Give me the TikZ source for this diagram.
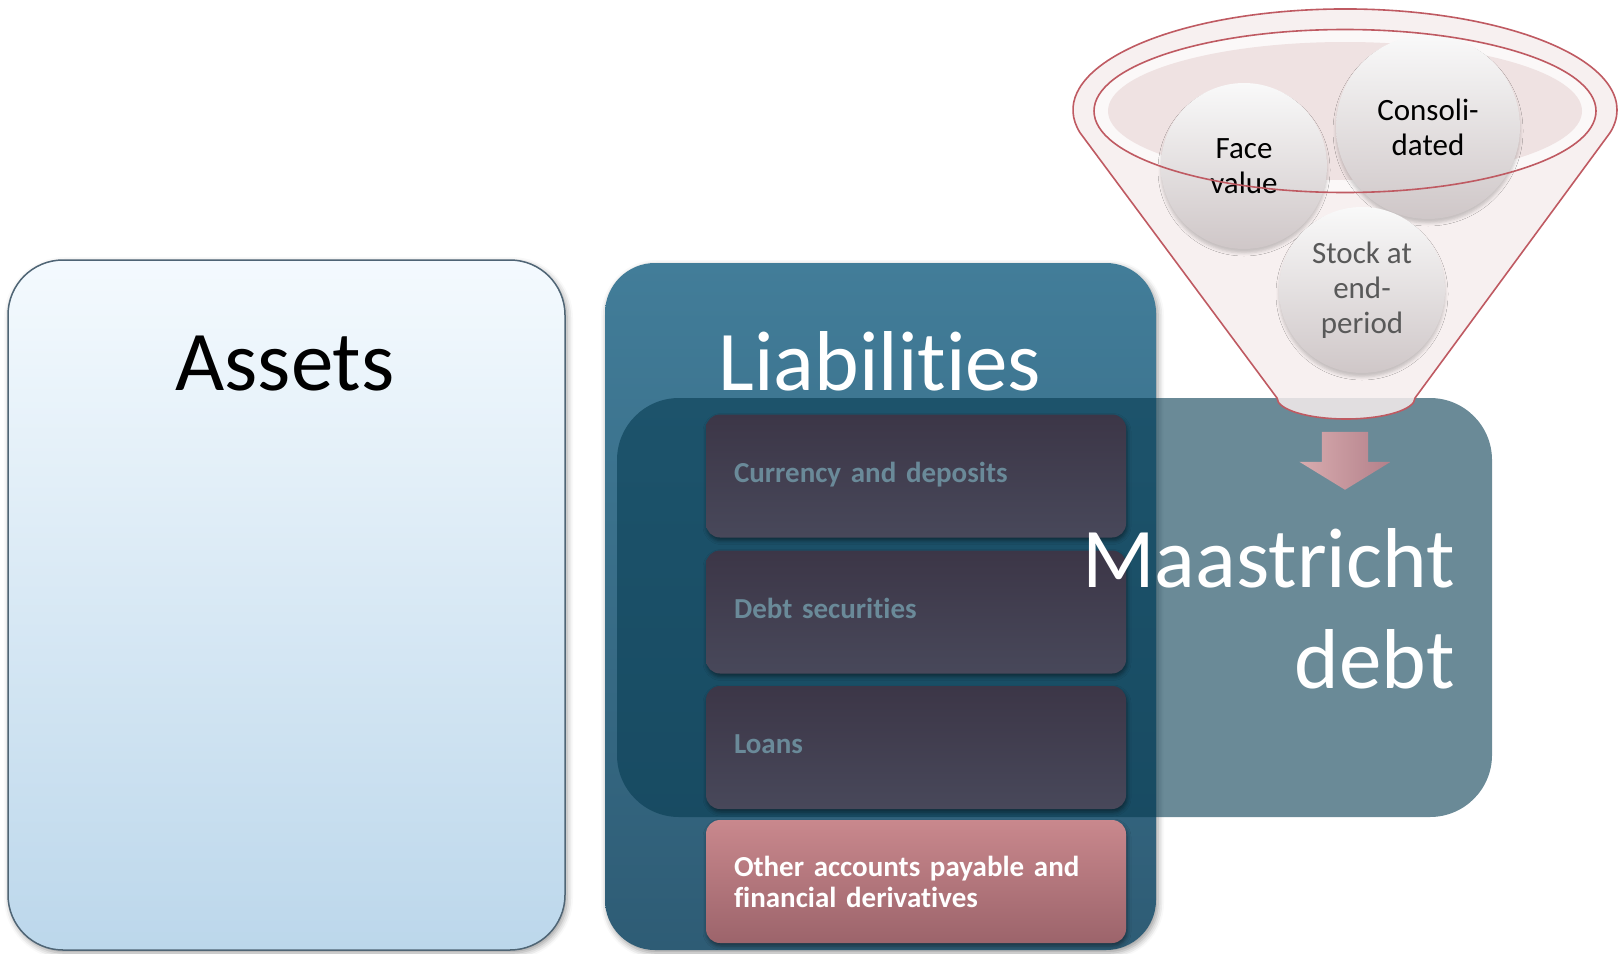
\documentclass[tikz,border=0pt]{standalone}
\usepackage{fontspec}
\setmainfont{Carlito}[Ligatures=NoCommon]
\usetikzlibrary{positioning, shapes.arrows, shadows.blur}

\definecolor{assetTop}{HTML}{F4FAFE}
\definecolor{assetBot}{HTML}{BCD7EB}
\definecolor{assetLine}{HTML}{4F6575}
\definecolor{liabTop}{HTML}{427D99}
\definecolor{liabBot}{HTML}{2E5C75}
\definecolor{maasFill}{HTML}{073C52}
\definecolor{itemTop}{HTML}{3C3647}
\definecolor{itemBot}{HTML}{48485A}
\definecolor{itemText}{HTML}{6A8A99}
\definecolor{othTop}{HTML}{C9888D}
\definecolor{othBot}{HTML}{9C646B}
\definecolor{funnelLine}{HTML}{BF5A62}
\definecolor{funnelFill}{HTML}{F6EDED}
\definecolor{funnelGap}{HTML}{FBF8F8}
\definecolor{funnelIn}{HTML}{EFE2E2}
\definecolor{ballTop}{HTML}{F9F9F9}
\definecolor{ballBot}{HTML}{CFC7C8}
\definecolor{arrowTop}{HTML}{D8ACAF}
\definecolor{arrowBot}{HTML}{B3808A}
\definecolor{stockText}{HTML}{595959}

\begin{document}
\begin{tikzpicture}[x=1pt, y=-1pt,
    bigbox/.style={inner sep=0pt, blur shadow={shadow xshift=2pt, shadow yshift=-3pt, shadow blur radius=6pt, shadow opacity=40}},
    item/.style={rounded corners=14pt, minimum width=420pt, minimum height=123pt, inner xsep=28pt, text width=364pt, align=left,
        font=\fontsize{29}{31}\selectfont\bfseries, execute at begin node=\strut,
        blur shadow={shadow xshift=1pt, shadow yshift=-3pt, shadow blur radius=4pt, shadow opacity=45}},
    bigtext/.style={font=\fontsize{85}{100}\selectfont},
    ball/.style={circle, inner sep=0pt, top color=ballTop, bottom color=ballBot, align=center,
        font=\fontsize{31}{35}\selectfont, blur shadow={shadow xshift=0pt, shadow yshift=-4pt, shadow blur radius=3pt, shadow opacity=20}},
    rim/.style={draw=funnelLine, line width=1.6pt}]

    \useasboundingbox (0,0) rectangle (1622,953);

    \node[bigbox, rounded corners=55pt, draw=assetLine, line width=1.5pt, top color=assetTop, bottom color=assetBot,
        minimum width=557pt, minimum height=690pt] (assets) at (286.5,605) {};
    \node[bigbox, rounded corners=50pt, top color=liabTop, bottom color=liabBot,
        minimum width=551pt, minimum height=687pt] (liab) at (880.5,606.5) {};
    \node[rounded corners=62pt, inner sep=0pt, fill=maasFill, fill opacity=0.6,
        minimum width=875pt, minimum height=419pt] (maas) at (1054.5,607.5) {};

    \node[item, top color=itemTop, bottom color=itemBot, text=itemText] (cur) at (916,476) {Currency and deposits};
    \node[item, top color=itemTop, bottom color=itemBot, text=itemText] (sec) at (916,612) {Debt securities};
    \node[item, top color=itemTop, bottom color=itemBot, text=itemText] (loan) at (916,747.5) {Loans};
    \node[item, top color=othTop, bottom color=othBot, text=white] (oth) at (916,881.5) {Other accounts payable and\\financial derivatives};

    \node[bigtext, anchor=base] (assetsname) at (285,390) {Assets};
    \node[bigtext, anchor=base, text=white] (liabname) at (880,390) {Liabilities};
    \node[bigtext, anchor=base east, text=white] (maasname) at (1458,587) {Maastricht};
    \node[bigtext, anchor=base east, text=white] (debtname) at (1458,688) {debt};

    \fill[funnelFill, fill opacity=0.85] (1080,132.7) arc[start angle=193, end angle=-13, x radius=272pt, y radius=101pt]
        -- (1415,398) arc[start angle=0, end angle=-180, x radius=69pt, y radius=21pt] -- cycle;
    \fill[funnelGap] (1345,111) ellipse[x radius=251pt, y radius=81.5pt];
    \fill[funnelIn] (1345,111) ellipse[x radius=237pt, y radius=69pt];

    \node[ball, minimum size=166pt] (face) at (1244,166) {Face\\value};
    \node[ball, minimum size=184pt] (cons) at (1428,127) {Consoli-\\dated};
    \node[ball, minimum size=166pt, text=stockText] (stock) at (1362,290) {Stock at\\end-\\period};

    \draw[rim] (1080,132.7) arc[start angle=193, end angle=-13, x radius=272pt, y radius=101pt]
        -- (1415,398) arc[start angle=0, end angle=-180, x radius=69pt, y radius=21pt] -- cycle;
    \draw[rim] (1345,111) ellipse[x radius=251pt, y radius=81.5pt];

    \node[single arrow, rotate=-90, anchor=tip, inner xsep=0pt, inner ysep=23pt, minimum height=58pt, minimum width=91pt,
        single arrow head extend=22.5pt, single arrow tip angle=117, left color=arrowTop, right color=arrowBot] (down) at (1345,490) {};
\end{tikzpicture}
\end{document}
